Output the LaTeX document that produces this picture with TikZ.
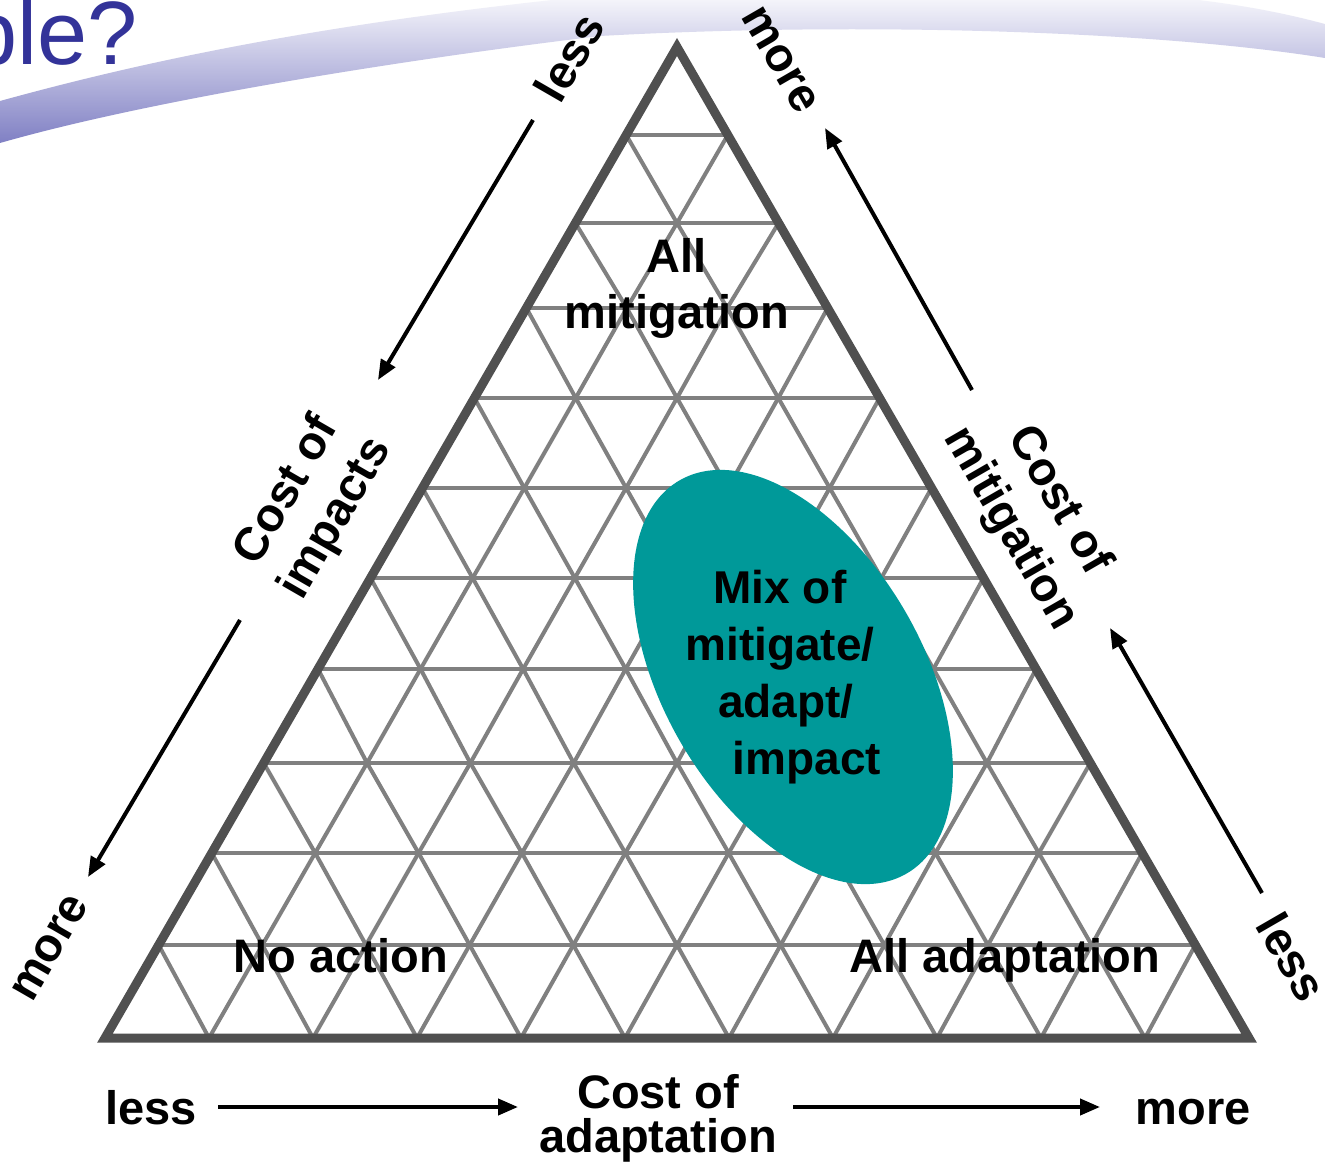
\documentclass[tikz,border=0pt]{standalone}
\usepackage{fontspec}
\setmainfont{Liberation Sans}
\usetikzlibrary{calc,arrows.meta,shapes.geometric}
\definecolor{outlinegray}{RGB}{80,80,80}
\definecolor{gridgray}{RGB}{128,128,128}
\definecolor{tealfill}{RGB}{0,153,153}
\definecolor{titleblue}{RGB}{51,51,153}
\definecolor{swooshlight}{RGB}{248,248,252}
\definecolor{swooshdark}{RGB}{128,128,196}
\tikzset{
  gridline/.style={draw=gridgray, line width=4pt, line cap=round},
  outline/.style={draw=outlinegray, line width=9pt, line join=miter},
  lbl/.style={font=\bfseries\fontsize{47}{56}\selectfont, align=center, inner sep=0pt, text=black},
  arr/.style={draw=black, line width=4pt, -{Triangle[length=20pt,width=16pt]}},
}
\begin{document}
\begin{tikzpicture}[x=1pt,y=-1pt]
\useasboundingbox (0,0) rectangle (1325,1166);
\clip (0,0) rectangle (1325,1166);
\fill[white] (0,0) rectangle (1325,1166);

% header swoosh
\shade[top color=swooshlight, bottom color=swooshdark]
  (0,101) .. controls (120,68) and (300,25) .. (600,-5)
  -- (1150,-5) .. controls (1230,2) and (1280,12) .. (1325,24)
  -- (1325,58) .. controls (1150,30) and (850,22) .. (600,36)
  .. controls (400,60) and (150,100) .. (0,143) -- cycle;
\node[anchor=base west, inner sep=0pt, text=titleblue,
      font=\fontsize{90}{90}\selectfont] (title) at (-33,65) {ple?};

% triangle corners
\coordinate (A) at (677,47);
\coordinate (L) at (105,1038);
\coordinate (R) at (1249,1038);

% grid (rows as measured)
\foreach \k/\ya/\yb in {1/47/135,2/135/223,3/223/308,4/308/398,5/398/488,6/488/578,7/578/669,8/669/763,9/763/853,10/853/945,11/945/1038}{
  \pgfmathtruncatemacro{\km}{\k-1}
  \pgfmathsetmacro{\ha}{(\ya-47)*0.57719}
  \pgfmathsetmacro{\hb}{(\yb-47)*0.57719}
  \pgfmathsetmacro{\sa}{2*\ha/max(\km,1)}
  \pgfmathsetmacro{\sb}{2*\hb/\k}
  \ifnum\k<11 \draw[gridline] (677-\hb,\yb) -- (677+\hb,\yb); \fi
  \foreach \j in {0,...,\km}{
    \draw[gridline] (677-\ha+\j*\sa,\ya) -- (677-\hb+\j*\sb,\yb);
    \draw[gridline] (677-\ha+\j*\sa,\ya) -- (677-\hb+\j*\sb+\sb,\yb);
  }
}
\draw[outline] (A) -- (L) -- (R) -- cycle;

% ellipse
\node[ellipse, fill=tealfill, draw=none, inner sep=0pt,
      minimum width=454pt, minimum height=260pt, rotate=-60] (mix) at (793,677) {};

% inner labels
\node[lbl] (allmit) at (677,288) {All\\mitigation};
\node[lbl, font=\bfseries\fontsize{46}{57}\selectfont] (mixtxt) at (780,677)
  {Mix of\\mitigate/\\\hspace*{12pt}adapt/\\\hspace*{54pt}impact};
\node[lbl, anchor=base] (noact) at (341,972) {No action};
\node[lbl, anchor=base] (alladapt) at (1005,972) {All adaptation};

% bottom axis
\node[lbl, font=\bfseries\fontsize{47}{44}\selectfont] (costadapt) at (658,1118) {Cost of\\adaptation};
\node[lbl, anchor=base] (lessB) at (151,1124) {less};
\node[lbl, anchor=base] (moreB) at (1193,1124) {more};
\coordinate (b1s) at (218,1107); \coordinate (b1e) at (518,1107);
\coordinate (b2s) at (793,1107); \coordinate (b2e) at (1100,1107);
\draw[arr] (b1s) -- (b1e);
\draw[arr] (b2s) -- (b2e);

% left axis
\node[lbl, rotate=60] (lessL) at (569,57) {less};
\node[lbl, rotate=60] (costimp) at (312,505) {Cost of\\impacts};
\node[lbl, rotate=60] (moreL) at (50,948) {more};
\coordinate (l1s) at (533,120); \coordinate (l1e) at (378,380);
\coordinate (l2s) at (240,620); \coordinate (l2e) at (88,877);
\draw[arr] (l1s) -- (l1e);
\draw[arr] (l2s) -- (l2e);

% right axis
\node[lbl, rotate=-60] (moreR) at (780,60) {more};
\node[lbl, rotate=-60] (costmit) at (1034,515) {Cost of\\mitigation};
\node[lbl, rotate=-60] (lessR) at (1292,957) {less};
\coordinate (r1s) at (972,390); \coordinate (r1e) at (825,128);
\coordinate (r2s) at (1262,893); \coordinate (r2e) at (1110,628);
\draw[arr] (r1s) -- (r1e);
\draw[arr] (r2s) -- (r2e);
\end{tikzpicture}
\end{document}
